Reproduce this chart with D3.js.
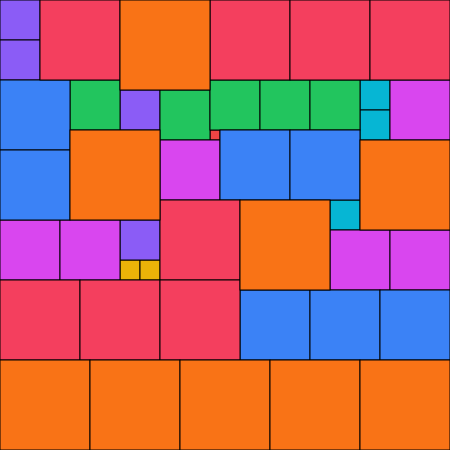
<!DOCTYPE html>
<html>
<head>
<meta charset="utf-8">
<script src="https://cdn.jsdelivr.net/npm/d3@7"></script>
<style>
  html, body { margin: 0; padding: 0; background: #fff; }
</style>
</head>
<body>
<script>
// partridge tiling, order 9 : n squares of side n (grid units)
const width = 450,
    height = 450,
    gridSize = 45;

const sides = [1, 2, 3, 4, 5, 6, 7, 8, 9];
const sideColors = ['#ef4444', '#eab308', '#06b6d4', '#8b5cf6', '#22c55e', '#d946ef', '#3b82f6', '#f43f5e', '#f97316'];

// cell where each square starts, grouped by side
const cols = [
  [21],
  [12, 14],
  [36, 36, 33],
  [0, 0, 12, 12],
  [7, 16, 21, 26, 31],
  [39, 16, 0, 6, 33, 39],
  [0, 0, 22, 29, 24, 31, 38],
  [4, 21, 29, 37, 16, 0, 8, 16],
  [12, 7, 36, 24, 0, 9, 18, 27, 36]
];
const rows = [
  [13],
  [26, 26],
  [8, 11, 20],
  [0, 4, 9, 22],
  [8, 9, 8, 8, 8],
  [8, 14, 22, 22, 23, 23],
  [8, 15, 13, 13, 29, 29, 29],
  [0, 0, 0, 0, 20, 28, 28, 28],
  [0, 13, 14, 20, 36, 36, 36, 36, 36]
];

var pieces = [];
sides.forEach(function(s, i) {
  cols[i].forEach(function(c, j) {
    pieces.push({side: s, col: c, row: rows[i][j], color: sideColors[i]});
  });
});

const x = d3.scaleLinear().domain([0, gridSize]).range([0, width]);
const y = d3.scaleLinear().domain([0, gridSize]).range([0, height]);

const svg = d3.select('body').append("svg")
    .attr("width", width)
    .attr("height", height);

svg.append("g").selectAll("rect")
    .data(pieces)
    .enter().append("rect")
    .attr("x", d => x(d.col))
    .attr("y", d => y(d.row))
    .attr("width", d => x(d.side) - x(0))
    .attr("height", d => y(d.side) - y(0))
    .style("fill", d => d.color)
    .style("stroke", "#000")
    .style("stroke-width", 1);
</script>
</body>
</html>
